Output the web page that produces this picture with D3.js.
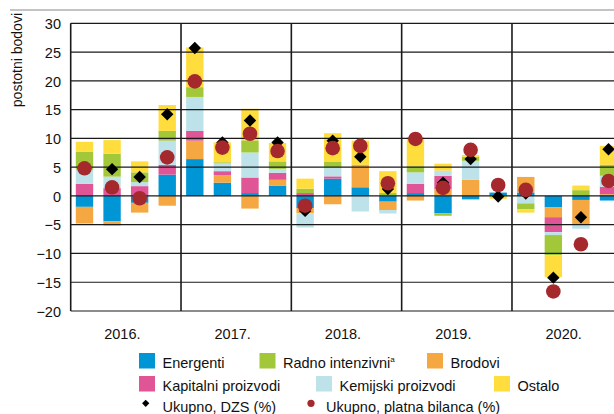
<!DOCTYPE html>
<html>
<head>
<meta charset="utf-8">
<script src="https://cdn.jsdelivr.net/npm/d3@7"></script>
<style>
  body { margin: 0; background: #fff; }
  svg { display: block; overflow: hidden; }
  text { font-family: "Liberation Sans", Arial, sans-serif; fill: #111; }
</style>
</head>
<body>
<div id="chart"></div>
<script>
var years = ['2016', '2017', '2018', '2019', '2020'];
var quarters = ['2016Q1', '2016Q2', '2016Q3', '2016Q4', '2017Q1', '2017Q2', '2017Q3', '2017Q4',
    '2018Q1', '2018Q2', '2018Q3', '2018Q4', '2019Q1', '2019Q2', '2019Q3', '2019Q4',
    '2020Q1', '2020Q2', '2020Q3', '2020Q4'];

// contributions, percentage points
var energenti = [-1.9, -4.4, -1.2, 3.7, 6.4, 2.3, 0.5, 1.8, -2.1, 3.0, 1.5, -1.0, 0.5, -3.0, -0.6, 0.6, 0.6, -2.0, -0.7, -0.8];
var radno     = [3.1, 4.0, 1.7, 1.7, 1.7, 0.2, 2.1, 1.3, 0.75, 0.9, 0, 0.5, 1.05, -0.45, 0.7, 0, -1.0, -3.5, 1.0, 1.9];
var brodovi   = [-2.9, -0.75, -1.7, -1.7, 3.2, 1.3, -2.2, 1.0, -0.9, -1.45, 3.9, -1.45, -0.8, 1.2, 2.8, 0, 2.7, -1.7, -4.4, 0.3];
var kapitalni = [2.1, 1.35, 1.7, 1.7, 1.7, 0.7, 2.7, 1.2, 0.5, 0.4, 0, 0, 1.6, 2.3, 0, 0, 0, -2.6, 0, 1.3];
var kemijski  = [2.45, 2.0, 0.7, 4.2, 5.9, 1.35, 4.35, 0.7, -2.5, 1.6, -2.7, -0.6, 2.0, 0.9, 3.3, 0.1, -1.3, -0.5, -0.6, 1.9];
var ostalo    = [1.75, 2.35, 1.9, 4.5, 6.9, 3.45, 5.5, 3.2, 1.75, 5.0, 4.2, 3.8, 5.1, 1.2, 0.3, -0.5, -0.6, -3.8, 0.8, 3.3];

var ukupnoDzs = [4.8, 4.65, 3.3, 14.2, 25.7, 9.3, 13.1, 9.3, -2.6, 9.6, 6.8, 1.2, 9.8, 2.3, 6.4, -0.1, 0.4, -14.2, -3.7, 8.1];
var ukupnoPb  = [4.8, 1.5, -0.4, 6.7, 19.9, 8.4, 10.8, 7.8, -1.7, 8.3, 8.7, 2.2, 9.9, 1.4, 8.0, 1.9, 1.05, -16.6, -8.4, 2.6];

var yTicks = [30, 25, 20, 15, 10, 5, 0, -5, -10, -15, -20];

var series = [
    {key: 'energenti', label: 'Energenti', color: '#0096d6', values: energenti},
    {key: 'brodovi', label: 'Brodovi', color: '#f5a841', values: brodovi},
    {key: 'kapitalni', label: 'Kapitalni proizvodi', color: '#e05596', values: kapitalni},
    {key: 'kemijski', label: 'Kemijski proizvodi', color: '#bde2ea', values: kemijski},
    {key: 'radno', label: 'Radno intenzivni', color: '#a2c83a', values: radno},
    {key: 'ostalo', label: 'Ostalo', color: '#ffdd3c', values: ostalo}
];
var colorOf = {}, labelOf = {};
series.forEach(function(s) { colorOf[s.key] = s.color; labelOf[s.key] = s.label; });

var width = 614, height = 414;
var plotLeft = 70.7, plotRight = 622.3, plotTop = 23.3, plotBottom = 311;

var svg = d3.select('#chart').append('svg')
    .attr('width', width)
    .attr('height', height);

var x = d3.scaleBand().domain(quarters).range([plotLeft, plotRight])
    .paddingInner(0.37).paddingOuter(0.185);
var xYear = d3.scaleBand().domain(years).range([plotLeft, plotRight]);
var y = d3.scaleLinear().domain([-20, 30]).range([plotBottom, plotTop]);

// figure frame line
svg.append('line')
    .attr('x1', 10).attr('x2', width)
    .attr('y1', 10).attr('y2', 10)
    .attr('stroke', '#888').attr('stroke-width', 1);

// stacked bars
var rows = quarters.map(function(q, i) {
    var r = {quarter: q};
    series.forEach(function(s) { r[s.key] = s.values[i]; });
    return r;
});
var stacked = d3.stack()
    .keys(series.map(function(s) { return s.key; }))
    .offset(d3.stackOffsetDiverging)(rows);

svg.append('g').selectAll('g')
    .data(stacked)
    .enter().append('g')
    .attr('fill', function(d) { return colorOf[d.key]; })
    .selectAll('rect')
    .data(function(d) { return d; })
    .enter().append('rect')
    .attr('x', function(d) { return x(d.data.quarter); })
    .attr('width', x.bandwidth())
    .attr('y', function(d) { return y(Math.max(d[0], d[1])); })
    .attr('height', function(d) { return Math.abs(y(d[0]) - y(d[1])); });

// grid lines
svg.append('g').selectAll('line')
    .data(yTicks)
    .enter().append('line')
    .attr('x1', plotLeft).attr('x2', width)
    .attr('y1', function(d) { return y(d); })
    .attr('y2', function(d) { return y(d); })
    .attr('stroke', '#1a1a1a').attr('stroke-width', 1.2);

// year separators + left axis
svg.append('g').selectAll('line')
    .data(years)
    .enter().append('line')
    .attr('x1', function(d) { return xYear(d); })
    .attr('x2', function(d) { return xYear(d); })
    .attr('y1', plotTop).attr('y2', plotBottom)
    .attr('stroke', '#1a1a1a').attr('stroke-width', 1.6);

// y axis labels
var yAxis = d3.axisLeft(y).tickValues(yTicks).tickSize(0).tickPadding(0)
    .tickFormat(function(d) { return d < 0 ? '\u2212' + Math.abs(d) : d; });
var gy = svg.append('g').attr('transform', 'translate(61,0)').call(yAxis);
gy.select('.domain').remove();
gy.selectAll('text').attr('font-size', 14.5).attr('font-family', null).attr('fill', '#111').attr('dy', '0.36em');

// x axis labels
var xAxis = d3.axisBottom(xYear).tickSize(0).tickPadding(0)
    .tickFormat(function(d) { return d + '.'; });
var gx = svg.append('g').attr('transform', 'translate(-3.5,339)').call(xAxis);
gx.select('.domain').remove();
gx.selectAll('text').attr('font-size', 14.5).attr('font-family', null).attr('fill', '#111').attr('dy', 0);

// y title
svg.append('text')
    .attr('transform', 'translate(22,13) rotate(-90)')
    .attr('text-anchor', 'end')
    .attr('font-size', 14)
    .text('postotni bodovi');

// markers
var diamond = d3.symbol().type(d3.symbolDiamond2).size(98);
svg.append('g').selectAll('path')
    .data(quarters)
    .enter().append('path')
    .attr('d', diamond)
    .attr('fill', '#000')
    .attr('transform', function(q, i) {
        return 'translate(' + (x(q) + x.bandwidth() / 2) + ',' + y(ukupnoDzs[i]) + ')';
    });

svg.append('g').selectAll('circle')
    .data(quarters)
    .enter().append('circle')
    .attr('cx', function(q) { return x(q) + x.bandwidth() / 2; })
    .attr('cy', function(q, i) { return y(ukupnoPb[i]); })
    .attr('r', 7.3)
    .attr('fill', '#a5282d');

// legend
var legendItems = [
    {key: 'energenti', x: 139, y: 353},
    {key: 'radno', x: 259.5, y: 353, sup: 'a'},
    {key: 'brodovi', x: 427, y: 353},
    {key: 'kapitalni', x: 139, y: 376},
    {key: 'kemijski', x: 316, y: 376},
    {key: 'ostalo', x: 494, y: 376}
];

var lg = svg.append('g');
legendItems.forEach(function(it) {
    lg.append('rect')
        .attr('x', it.x).attr('y', it.y)
        .attr('width', 16).attr('height', 15.5)
        .attr('fill', colorOf[it.key]);
    var t = lg.append('text')
        .attr('x', it.x + 23.5).attr('y', it.y + 15)
        .attr('font-size', 14.5)
        .text(labelOf[it.key]);
    if (it.sup) {
        t.append('tspan').attr('font-size', 8).attr('dy', -6).text(it.sup);
    }
});

lg.append('path')
    .attr('d', d3.symbol().type(d3.symbolDiamond2).size(34))
    .attr('transform', 'translate(145.7,403.3)')
    .attr('fill', '#000');
lg.append('text').attr('x', 162.5).attr('y', 411.5).attr('font-size', 14.5)
    .text('Ukupno, DZS (%)');
lg.append('circle').attr('cx', 311).attr('cy', 403.3).attr('r', 3.6).attr('fill', '#a5282d');
lg.append('text').attr('x', 326).attr('y', 411.5).attr('font-size', 14.5)
    .text('Ukupno, platna bilanca (%)');
</script>
</body>
</html>
